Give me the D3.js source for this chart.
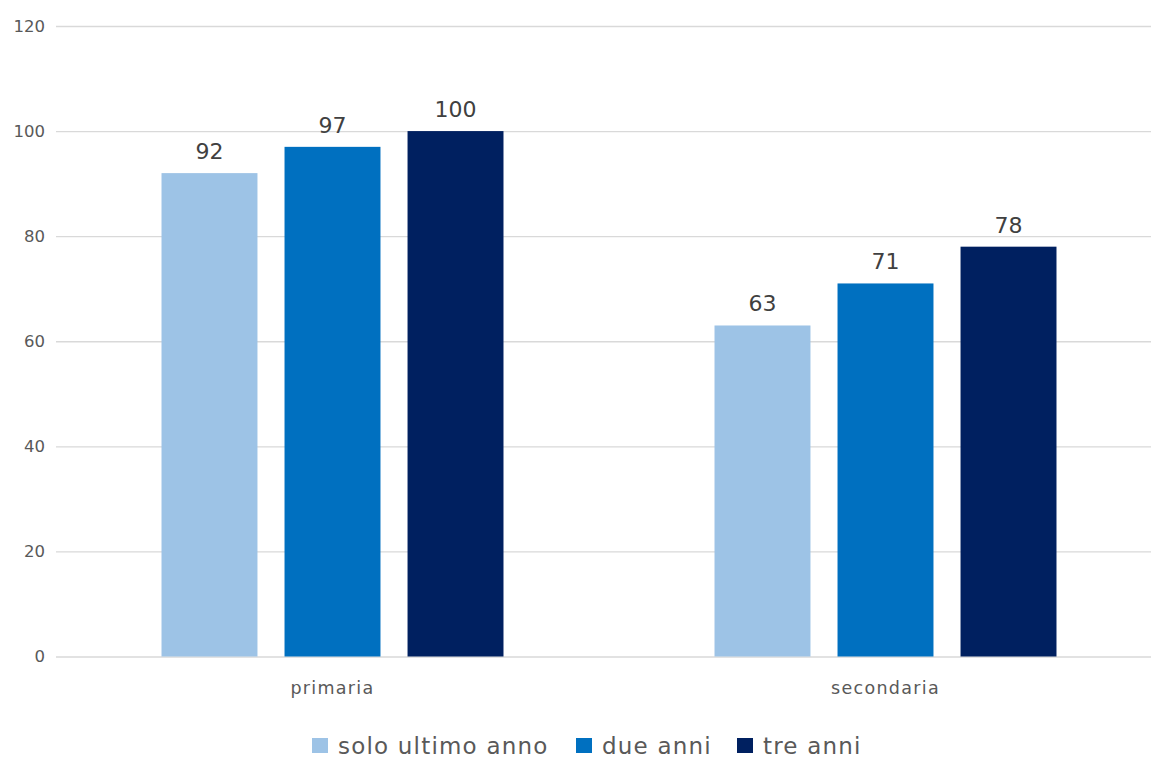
<!DOCTYPE html>
<html>
<head>
<meta charset="utf-8">
<script src="https://cdn.jsdelivr.net/npm/d3@7"></script>
<style>
  html, body { margin: 0; padding: 0; background: #fff; }
  svg { display: block; }
  text { font-family: "DejaVu Sans", "Noto Sans", sans-serif; }
</style>
</head>
<body>
<svg id="chart" width="1151" height="758"></svg>
<script>
// School levels and the three exposure groups
const categories = ["primaria", "secondaria"];
const seriesNames = ["solo ultimo anno", "due anni", "tre anni"];
const seriesColors = ["#9DC3E6", "#0070C0", "#002060"];
const soloUltimoAnno = [92, 63];
const dueAnni = [97, 71];
const treAnni = [100, 78];
const yTicks = [0, 20, 40, 60, 80, 100, 120];

const seriesValues = [soloUltimoAnno, dueAnni, treAnni];

const svg = d3.select("#chart");
const W = 1151;

const y = d3.scaleLinear().domain([0, 120]).range([656.5, 26]);

const x0 = d3.scaleBand()
  .domain(categories)
  .range([56, 1162])
  .paddingInner(0.3816)
  .paddingOuter(0.1908);

const x1 = d3.scaleBand()
  .domain(seriesNames)
  .range([0, x0.bandwidth()])
  .paddingInner(0.22)
  .paddingOuter(0);

// Horizontal gridlines with tick labels on the left
const yAxis = d3.axisLeft(y)
  .tickValues(yTicks)
  .tickSize(-(W - 56))
  .tickPadding(12);

const gy = svg.append("g")
  .attr("transform", "translate(56,0)")
  .call(yAxis);
gy.select(".domain").remove();
gy.selectAll(".tick line").attr("stroke", "#D9D9D9").attr("stroke-width", 1.3);
gy.selectAll(".tick text")
  .attr("fill", "#595959")
  .attr("font-size", 16.5)
  .attr("x", -11);

// Category labels under the baseline
const xAxis = d3.axisBottom(x0).tickSize(0).tickPadding(25);
const gx = svg.append("g")
  .attr("transform", `translate(0,${y(0)})`)
  .call(xAxis);
gx.select(".domain").remove();
gx.selectAll(".tick text")
  .attr("fill", "#595959")
  .attr("font-size", 17.5)
  .attr("letter-spacing", 1.3);

// Clustered bars with value labels
const groups = svg.append("g")
  .selectAll("g")
  .data(categories)
  .join("g")
  .attr("transform", d => `translate(${x0(d)},0)`);

const rows = ci => seriesNames.map((s, si) => ({ series: s, si, value: seriesValues[si][ci] }));

groups.each(function (c, ci) {
  const g = d3.select(this);
  const data = rows(ci);
  g.selectAll("rect")
    .data(data)
    .join("rect")
    .attr("x", d => x1(d.series))
    .attr("y", d => y(d.value))
    .attr("width", x1.bandwidth())
    .attr("height", d => y(0) - y(d.value))
    .attr("fill", d => seriesColors[d.si]);
  g.selectAll("text.val")
    .data(data)
    .join("text")
    .attr("class", "val")
    .attr("x", d => x1(d.series) + x1.bandwidth() / 2)
    .attr("y", d => y(d.value) - 14)
    .attr("text-anchor", "middle")
    .attr("fill", "#404040")
    .attr("font-size", 22)
    .text(d => d.value);
});

// Legend
const legendX = [312, 576, 737];
const legend = svg.append("g");
seriesNames.forEach((s, i) => {
  legend.append("rect")
    .attr("x", legendX[i])
    .attr("y", 738)
    .attr("width", 16)
    .attr("height", 15)
    .attr("fill", seriesColors[i]);
  legend.append("text")
    .attr("x", legendX[i] + 26)
    .attr("y", 754)
    .attr("fill", "#595959")
    .attr("font-size", 23)
    .attr("letter-spacing", 1.2)
    .text(s);
});
</script>
</body>
</html>
